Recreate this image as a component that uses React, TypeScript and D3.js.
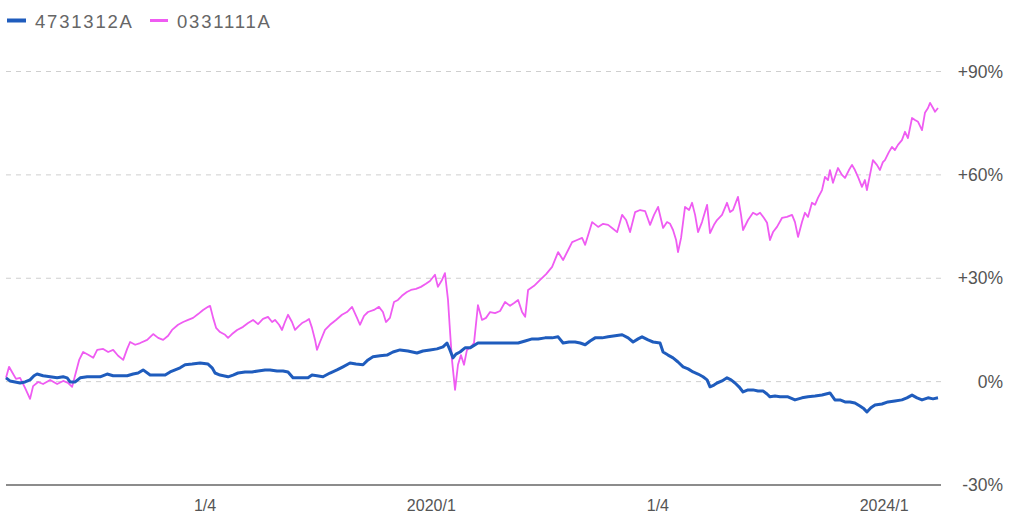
import React from "react";
import * as d3 from "d3";

const seriesNames = ["4731312A", "0331111A"];
const seriesColors = ["#1f5cbd", "#ef5cf2"];

// [decimal year, % change]
const blueData: [number, number][] = [
  [2016.242, 1.1], [2016.277, 0.2], [2016.322, -0.1], [2016.366, -0.4], [2016.41, -0.1], [2016.454, 0.5],
  [2016.489, 1.7], [2016.516, 2.2], [2016.569, 1.7], [2016.631, 1.4], [2016.693, 1.1], [2016.746, 1.4],
  [2016.781, 1.1], [2016.807, -0.1], [2016.852, -0.1], [2016.896, 1.1], [2016.958, 1.4], [2017.019, 1.4],
  [2017.072, 1.4], [2017.134, 2.2], [2017.187, 1.7], [2017.249, 1.7], [2017.311, 1.7], [2017.364, 2.2],
  [2017.408, 2.5], [2017.452, 3.4], [2017.514, 1.9], [2017.558, 1.9], [2017.602, 1.9], [2017.647, 1.9],
  [2017.691, 2.8], [2017.735, 3.4], [2017.779, 4.0], [2017.823, 4.9], [2017.885, 5.1], [2017.956, 5.4],
  [2018.026, 5.1], [2018.062, 4.0], [2018.088, 2.5], [2018.132, 1.9], [2018.203, 1.4], [2018.247, 1.9],
  [2018.291, 2.5], [2018.353, 2.8], [2018.415, 2.8], [2018.468, 3.1], [2018.53, 3.4], [2018.574, 3.4],
  [2018.636, 3.1], [2018.689, 3.1], [2018.733, 2.8], [2018.777, 1.1], [2018.821, 1.1], [2018.865, 1.1],
  [2018.91, 1.1], [2018.945, 1.9], [2018.989, 1.7], [2019.042, 1.4], [2019.104, 2.5], [2019.166, 3.4],
  [2019.219, 4.3], [2019.281, 5.4], [2019.334, 5.1], [2019.396, 4.9], [2019.44, 6.3], [2019.484, 7.2],
  [2019.546, 7.5], [2019.608, 7.7], [2019.661, 8.6], [2019.723, 9.2], [2019.793, 8.9], [2019.873, 8.3],
  [2019.926, 8.9], [2019.988, 9.2], [2020.05, 9.5], [2020.103, 10.1], [2020.138, 11.2], [2020.164, 9.2],
  [2020.191, 6.9], [2020.217, 8.0], [2020.253, 8.6], [2020.297, 9.8], [2020.341, 9.8], [2020.411, 11.2],
  [2020.5, 11.2], [2020.588, 11.2], [2020.677, 11.2], [2020.765, 11.2], [2020.827, 11.8], [2020.889, 12.4],
  [2020.942, 12.4], [2021.003, 12.7], [2021.065, 12.7], [2021.118, 13.0], [2021.162, 11.2], [2021.215, 11.5],
  [2021.268, 11.5], [2021.313, 11.2], [2021.357, 10.7], [2021.401, 11.8], [2021.445, 12.7], [2021.507, 12.7],
  [2021.56, 13.0], [2021.622, 13.3], [2021.684, 13.6], [2021.737, 12.7], [2021.781, 11.5], [2021.825, 12.4],
  [2021.86, 13.0], [2021.913, 12.1], [2021.958, 11.5], [2022.019, 11.2], [2022.046, 8.6], [2022.09, 7.7],
  [2022.134, 6.9], [2022.178, 5.7], [2022.223, 4.3], [2022.267, 3.7], [2022.311, 2.8], [2022.355, 2.2],
  [2022.399, 1.4], [2022.435, 0.5], [2022.461, -1.5], [2022.496, -1.0], [2022.523, -0.4], [2022.567, 0.2],
  [2022.611, 1.1], [2022.647, 0.5], [2022.682, -0.4], [2022.717, -1.5], [2022.753, -3.0], [2022.797, -2.4],
  [2022.841, -2.4], [2022.885, -2.7], [2022.929, -2.7], [2022.965, -3.6], [2022.991, -4.4], [2023.035, -4.2],
  [2023.08, -4.4], [2023.15, -4.4], [2023.212, -5.3], [2023.274, -4.7], [2023.327, -4.4], [2023.389, -4.2],
  [2023.451, -3.9], [2023.521, -3.3], [2023.565, -5.3], [2023.61, -5.3], [2023.654, -5.9], [2023.698, -5.9],
  [2023.742, -6.2], [2023.786, -7.1], [2023.822, -7.9], [2023.848, -8.8], [2023.883, -7.6], [2023.919, -6.8],
  [2023.981, -6.5], [2024.034, -5.9], [2024.095, -5.6], [2024.157, -5.3], [2024.201, -4.7], [2024.246, -3.9],
  [2024.29, -4.7], [2024.334, -5.3], [2024.387, -4.7], [2024.431, -5.0], [2024.475, -4.7],
];

const pinkData: [number, number][] = [
  [2016.242, 1.1], [2016.269, 4.3], [2016.295, 2.8], [2016.33, 0.8], [2016.366, 1.1], [2016.41, -1.8],
  [2016.454, -5.0], [2016.481, -1.3], [2016.525, -0.1], [2016.569, -0.7], [2016.631, 0.5], [2016.693, -0.7],
  [2016.746, 0.2], [2016.79, -0.4], [2016.825, -1.5], [2016.852, 1.9], [2016.887, 6.3], [2016.922, 8.6],
  [2016.967, 7.8], [2017.011, 6.9], [2017.046, 9.2], [2017.099, 9.5], [2017.143, 8.6], [2017.187, 9.2],
  [2017.231, 7.5], [2017.276, 6.3], [2017.311, 9.5], [2017.337, 11.5], [2017.382, 10.7], [2017.426, 11.2],
  [2017.488, 12.1], [2017.541, 13.8], [2017.585, 12.7], [2017.629, 12.1], [2017.673, 13.3], [2017.708, 15.0],
  [2017.761, 16.5], [2017.806, 17.3], [2017.85, 17.9], [2017.894, 18.5], [2017.938, 19.6], [2017.982, 20.8],
  [2018.026, 21.7], [2018.044, 22.0], [2018.071, 18.5], [2018.097, 15.6], [2018.132, 14.4], [2018.177, 13.6],
  [2018.203, 12.7], [2018.238, 13.8], [2018.283, 15.0], [2018.336, 15.9], [2018.38, 17.0], [2018.424, 17.9],
  [2018.468, 16.7], [2018.512, 18.2], [2018.556, 18.8], [2018.592, 17.3], [2018.618, 17.9], [2018.654, 16.5],
  [2018.68, 15.0], [2018.706, 17.3], [2018.733, 19.4], [2018.768, 17.3], [2018.795, 15.0], [2018.83, 16.2],
  [2018.857, 17.0], [2018.892, 17.6], [2018.919, 18.2], [2018.945, 15.6], [2018.972, 12.1], [2018.989, 9.2],
  [2019.016, 11.5], [2019.06, 15.0], [2019.104, 16.5], [2019.157, 17.9], [2019.21, 19.4], [2019.254, 20.2],
  [2019.299, 21.7], [2019.343, 18.5], [2019.369, 16.5], [2019.405, 19.1], [2019.44, 20.2], [2019.493, 20.8],
  [2019.537, 21.7], [2019.572, 20.2], [2019.599, 17.3], [2019.634, 18.5], [2019.67, 23.1], [2019.705, 23.7],
  [2019.74, 24.9], [2019.784, 26.0], [2019.82, 26.6], [2019.864, 26.9], [2019.908, 27.5], [2019.952, 28.4],
  [2019.988, 29.2], [2020.032, 31.0], [2020.058, 27.5], [2020.094, 29.5], [2020.12, 31.5], [2020.147, 23.7],
  [2020.164, 15.0], [2020.182, 6.3], [2020.209, -2.4], [2020.235, 4.9], [2020.261, 7.7], [2020.288, 4.9],
  [2020.314, 9.2], [2020.341, 9.8], [2020.376, 11.2], [2020.411, 22.2], [2020.447, 17.9], [2020.482, 18.5],
  [2020.518, 20.2], [2020.562, 19.9], [2020.606, 20.5], [2020.65, 23.1], [2020.694, 22.0], [2020.73, 22.8],
  [2020.765, 23.7], [2020.8, 20.2], [2020.827, 18.8], [2020.853, 26.6], [2020.906, 27.8], [2020.959, 29.5],
  [2021.012, 31.2], [2021.065, 33.3], [2021.118, 37.6], [2021.162, 35.3], [2021.207, 38.2], [2021.242, 40.5],
  [2021.286, 41.1], [2021.33, 41.7], [2021.357, 39.7], [2021.392, 43.4], [2021.419, 46.3], [2021.472, 44.9],
  [2021.516, 45.8], [2021.56, 45.5], [2021.595, 44.6], [2021.64, 43.4], [2021.684, 48.4], [2021.719, 46.9],
  [2021.754, 43.4], [2021.799, 49.2], [2021.843, 49.8], [2021.887, 49.5], [2021.931, 45.5], [2021.966, 48.4],
  [2022.002, 50.7], [2022.046, 44.6], [2022.081, 46.3], [2022.108, 45.8], [2022.134, 44.0], [2022.161, 41.1],
  [2022.178, 37.6], [2022.205, 41.7], [2022.24, 50.7], [2022.276, 49.8], [2022.302, 51.9], [2022.329, 48.4],
  [2022.355, 43.4], [2022.39, 46.3], [2022.435, 51.3], [2022.461, 43.1], [2022.496, 45.5], [2022.523, 46.9],
  [2022.567, 48.4], [2022.611, 51.9], [2022.638, 49.2], [2022.664, 49.8], [2022.708, 53.6], [2022.735, 48.4],
  [2022.753, 44.0], [2022.797, 46.9], [2022.841, 49.0], [2022.876, 48.4], [2022.903, 49.0], [2022.938, 47.5],
  [2022.965, 46.1], [2022.991, 41.1], [2023.018, 43.4], [2023.053, 44.9], [2023.097, 47.5], [2023.141, 47.8],
  [2023.186, 48.4], [2023.212, 46.3], [2023.239, 42.0], [2023.274, 46.3], [2023.3, 49.0], [2023.327, 47.8],
  [2023.362, 51.9], [2023.389, 51.3], [2023.415, 53.3], [2023.451, 55.6], [2023.477, 59.4], [2023.504, 58.5],
  [2023.521, 61.4], [2023.548, 57.7], [2023.574, 60.3], [2023.592, 62.0], [2023.627, 60.0], [2023.654, 59.1],
  [2023.689, 61.4], [2023.716, 62.9], [2023.742, 61.4], [2023.769, 59.4], [2023.804, 56.5], [2023.83, 58.5],
  [2023.848, 55.6], [2023.875, 60.0], [2023.901, 64.3], [2023.936, 62.9], [2023.963, 61.4], [2023.989, 63.7],
  [2024.007, 64.3], [2024.042, 66.6], [2024.069, 68.1], [2024.095, 67.2], [2024.122, 68.7], [2024.157, 70.1],
  [2024.184, 72.5], [2024.21, 70.7], [2024.246, 76.5], [2024.272, 75.9], [2024.299, 75.4], [2024.334, 73.0],
  [2024.36, 78.0], [2024.387, 79.4], [2024.405, 80.9], [2024.431, 79.4], [2024.449, 78.3], [2024.475, 79.4],
];

const yTicks = [-30, 0, 30, 60, 90];
const yTickLabels = ["-30%", "0%", "+30%", "+60%", "+90%"];
const xTickYears = [2018, 2020, 2022, 2024];
const xTickLabels = ["1/4", "2020/1", "1/4", "2024/1"];

function yearToDate(y: number): Date {
  const yr = Math.floor(y);
  const start = new Date(yr, 0, 1).getTime();
  const end = new Date(yr + 1, 0, 1).getTime();
  return new Date(start + (y - yr) * (end - start));
}

export default function App() {
  const W = 1024;
  const H = 520;
  const x0 = 6;
  const x1 = 938;
  const x = d3
    .scaleTime()
    .domain([yearToDate(2016.242), yearToDate(2024.475)])
    .range([x0, x1]);
  const y = d3.scaleLinear().domain([-30, 90]).range([485, 71.5]);

  const line = d3
    .line<[number, number]>()
    .x((d) => x(yearToDate(d[0])))
    .y((d) => y(d[1]));

  const gridRight = 941;

  return (
    <svg
      width={W}
      height={H}
      style={{ position: "absolute", left: 0, top: 0, background: "#fff" }}
      fontFamily="'Liberation Sans', Arial, sans-serif"
    >
      {/* legend */}
      <g>
        <line x1={7} x2={26} y1={20.5} y2={20.5} stroke={seriesColors[0]} strokeWidth={4} />
        <text x={35} y={27.5} fontSize={18.5} fill="#666" letterSpacing={1.8}>
          {seriesNames[0]}
        </text>
        <line x1={150} x2={168} y1={20.5} y2={20.5} stroke={seriesColors[1]} strokeWidth={3} />
        <text x={177} y={27.5} fontSize={18.5} fill="#666" letterSpacing={1.8}>
          {seriesNames[1]}
        </text>
      </g>

      {/* grid */}
      {yTicks.map((t) =>
        t === -30 ? (
          <line key={t} x1={x0} x2={gridRight} y1={y(t)} y2={y(t)} stroke="#666" strokeWidth={1.3} />
        ) : (
          <line
            key={t}
            x1={x0}
            x2={gridRight}
            y1={y(t)}
            y2={y(t)}
            stroke="#cfcfcf"
            strokeWidth={1}
            strokeDasharray="5,5"
          />
        )
      )}
      {yTicks.map((t, i) => (
        <text key={"l" + t} x={1003} y={y(t) + 6} fontSize={17.5} fill="#555" textAnchor="end">
          {yTickLabels[i]}
        </text>
      ))}
      {xTickYears.map((yr, i) => (
        <text
          key={"x" + i}
          x={x(yearToDate(yr))}
          y={511}
          fontSize={16}
          fill="#555"
          textAnchor="middle"
        >
          {xTickLabels[i]}
        </text>
      ))}

      {/* lines */}
      <path d={line(pinkData) || ""} fill="none" stroke={seriesColors[1]} strokeWidth={1.8} strokeLinejoin="round" />
      <path d={line(blueData) || ""} fill="none" stroke={seriesColors[0]} strokeWidth={3} strokeLinejoin="round" />
    </svg>
  );
}
